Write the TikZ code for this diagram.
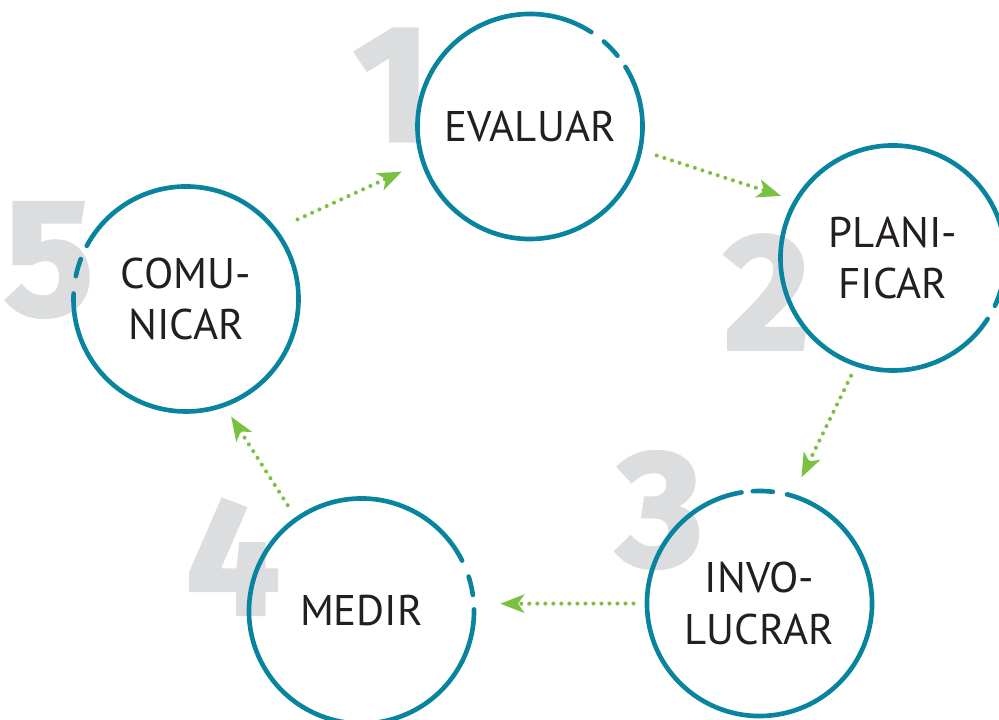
\documentclass[tikz,border=0pt]{standalone}
\usepackage{fontspec}
\setmainfont{PT Sans}
\newfontfamily\numfont{Fira Sans}[BoldFeatures={FakeBold=2.5}]
\usetikzlibrary{arrows.meta}
\usetikzlibrary{calc}

\definecolor{ringteal}{RGB}{8,132,158}
\definecolor{flowgreen}{RGB}{122,193,66}
\definecolor{numgrey}{RGB}{220,221,223}
\definecolor{labelink}{RGB}{35,31,32}

\begin{document}
\begin{tikzpicture}[x=0.025cm,y=0.025cm,
  label/.style={text=labelink, align=center, inner sep=0pt,
    font=\fontsize{30.5pt}{36.3pt}\selectfont},
  bignum/.style={text=numgrey, inner sep=0pt,
    font=\numfont\bfseries\fontsize{117pt}{117pt}\selectfont},
  ring/.style={draw=ringteal, line width=3.3pt, line cap=round},
  flow/.style={draw=flowgreen, line width=2.9pt, line cap=round,
    dash pattern=on 0pt off 5.7pt,
    -{Stealth[length=17pt, width=13pt, inset=4.5pt, fill=flowgreen]}}]
\def\r{2.8125cm}

\useasboundingbox (0,0) rectangle (999,720);

% big numbers behind the rings
\node [bignum, name=n1] at (392,635) {1};
\node [bignum, name=n2] at (767,428) {2};
\node [bignum, name=n3] at (660,210) {3};
\node [bignum, name=n4] at (233,163) {4};
\node [bignum, name=n5] at (49,460)  {5};

% steps
\node [label, name=c1] at (530,593.5) {EVALUAR};
\node [label, name=c2] at (893,462)   {PLANI-\\FICAR};
\node [label, name=c3] at (759.5,116.5) {INVO-\\LUCRAR};
\node [label, name=c4] at (361.5,109) {MEDIR};
\node [label, name=c5] at (186,421)   {COMU-\\NICAR};

% rings with two gaps each
\draw [ring] ($(c1)+(57:\r)$) arc [start angle=57, end angle=392, radius=\r];
\draw [ring] ($(c1)+(39:\r)$) arc [start angle=39, end angle=49, radius=\r];
\draw [ring] ($(c2)+(-7.8:\r)$) arc [start angle=-7.8, end angle=327.2, radius=\r];
\draw [ring] ($(c2)+(-25.1:\r)$) arc [start angle=-25.1, end angle=-15.2, radius=\r];
\draw [ring] ($(c3)+(99.2:\r)$) arc [start angle=99.2, end angle=435.8, radius=\r];
\draw [ring] ($(c3)+(83.2:\r)$) arc [start angle=83.2, end angle=93.4, radius=\r];
\draw [ring] ($(c4)+(26.6:\r)$) arc [start angle=26.6, end angle=360.8, radius=\r];
\draw [ring] ($(c4)+(8.2:\r)$) arc [start angle=8.2, end angle=17.8, radius=\r];
\draw [ring] ($(c5)+(177.2:\r)$) arc [start angle=177.2, end angle=511.8, radius=\r];
\draw [ring] ($(c5)+(159.2:\r)$) arc [start angle=159.2, end angle=168.3, radius=\r];

% cycle
\draw [flow] ($(c1)+(-12.9:130)$) -- ($(c2)+(151:128)$);
\draw [flow] ($(c2)+(-109.6:125)$) -- ($(c3)+(71.6:133)$);
\draw [flow] ($(c3)+(180:126)$) -- ($(c4)+(3:139)$);
\draw [flow] ($(c4)+(124.9:129)$) -- ($(c5)+(-69:126)$);
\draw [flow] ($(c5)+(35.5:137)$) -- ($(c1)+(-160.6:136)$);
\end{tikzpicture}
\end{document}
